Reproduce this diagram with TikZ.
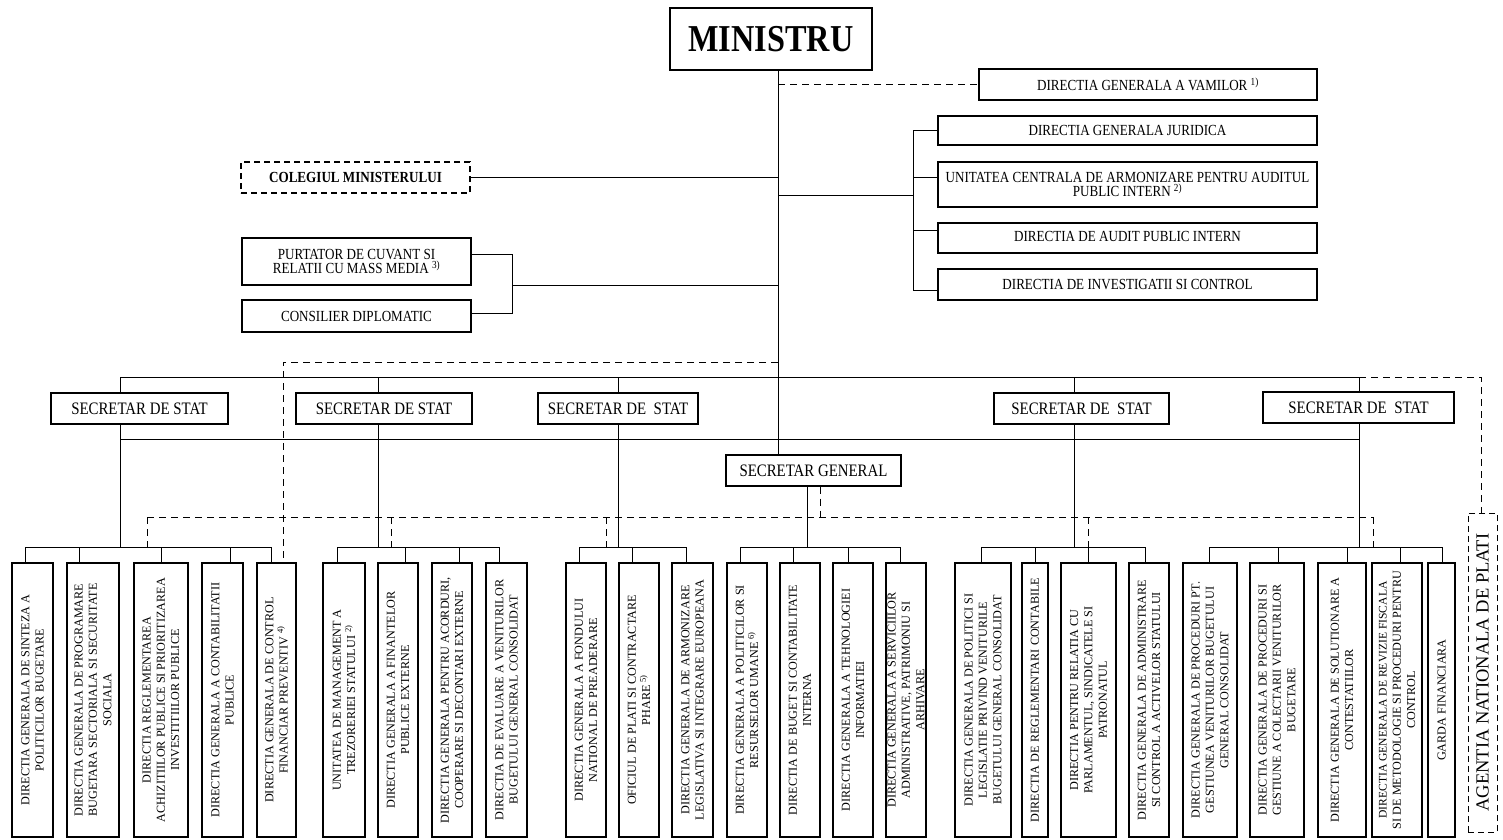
\documentclass[tikz,border=0pt]{standalone}
\usepackage{fontspec}
\setmainfont{Liberation Serif}
\newfontfamily\cond{Liberation Serif}[FakeStretch=0.85]
\usetikzlibrary{backgrounds}
\newcommand\vertbox[4]{%
  \node[vbx, minimum width=#3pt] (#1) at (#2,700) {};
  \node[vtx] (#1t) at (#1.center) {#4};}
\begin{document}
\begin{tikzpicture}[x=1pt,y=-1pt,
  hb/.style={draw,line width=1.1pt,fill=white,inner sep=0pt,align=center,font=\cond\fontsize{15.4}{14.5}\selectfont},
  ss/.style={hb,font=\cond\fontsize{17.5}{18}\selectfont,minimum height=31pt},
  vbx/.style={draw,line width=1.1pt,fill=white,inner sep=0pt,minimum height=274pt},
  vtx/.style={rotate=90,align=center,inner sep=0pt,font=\fontsize{12.2}{14.3}\selectfont},
  ln/.style={line width=0.9pt},
  dl/.style={line width=0.9pt,dash pattern=on 7pt off 5pt},
]
\useasboundingbox (0,0) rectangle (1503,839);

% top level
\node[hb,line width=1.2pt,minimum width=202pt,minimum height=62pt,font=\cond\bfseries\fontsize{38}{40}\selectfont] (MIN) at (771,39) {MINISTRU};
\node[hb,minimum width=338pt,minimum height=31pt] (VAM) at (1148,84.5) {DIRECTIA GENERALA A VAMILOR \textsuperscript{1)}};
\node[hb,minimum width=379pt,minimum height=29pt] (JUR) at (1127.5,130.5) {DIRECTIA GENERALA JURIDICA};
\node[hb,minimum width=379pt,minimum height=45pt] (UCA) at (1127.5,184.5) {UNITATEA CENTRALA DE ARMONIZARE PENTRU AUDITUL\\PUBLIC INTERN \textsuperscript{2)}};
\node[hb,minimum width=379pt,minimum height=30pt] (AUD) at (1127.5,238) {\raisebox{3pt}{DIRECTIA DE AUDIT PUBLIC INTERN}};
\node[hb,minimum width=379pt,minimum height=31pt] (INV) at (1127.5,284.5) {DIRECTIA DE INVESTIGATII SI CONTROL};
\node[hb,dash pattern=on 6pt off 4pt,minimum width=229pt,minimum height=31pt,font=\cond\bfseries\fontsize{15.4}{14.5}\selectfont] (COL) at (355.5,177.5) {COLEGIUL MINISTERULUI};
\node[hb,minimum width=229pt,minimum height=47pt] (PUR) at (356.5,261.5) {PURTATOR DE CUVANT SI\\RELATII CU MASS MEDIA \textsuperscript{3)}};
\node[hb,minimum width=229pt,minimum height=32pt] (CON) at (356.5,316) {CONSILIER DIPLOMATIC};

% secretaries
\node[ss,minimum width=177pt] (SS1) at (139.5,408.5) {SECRETAR DE STAT};
\node[ss,minimum width=176pt] (SS2) at (384,408.5) {SECRETAR DE STAT};
\node[ss,minimum width=160pt] (SS3) at (618,408.5) {SECRETAR DE\ \ STAT};
\node[ss,minimum width=175pt] (SS4) at (1081.5,408.5) {SECRETAR DE\ \ STAT};
\node[ss,minimum width=191pt] (SS5) at (1358.5,407.5) {SECRETAR DE\ \ STAT};
\node[ss,minimum width=175pt] (SG) at (813.5,470.5) {SECRETAR GENERAL};

% group 1
\vertbox{g1a}{32.5}{41}{DIRECTIA GENERALA DE SINTEZA A\\POLITICILOR BUGETARE}
\vertbox{g1b}{93}{52}{DIRECTIA GENERALA DE PROGRAMARE\\BUGETARA SECTORIALA SI SECURITATE\\SOCIALA}
\vertbox{g1c}{161}{54}{DIRECTIA REGLEMENTAREA\\ACHIZITIILOR PUBLICE SI PRIORITIZAREA\\INVESTITIILOR PUBLICE}
\vertbox{g1d}{222.5}{41}{DIRECTIA GENERALA A CONTABILITATII\\PUBLICE}
\vertbox{g1e}{276.5}{39}{DIRECTIA GENERALA DE CONTROL\\FINANCIAR PREVENTIV \textsuperscript{4)}}
% group 2
\vertbox{g2a}{344}{42}{UNITATEA DE MANAGEMENT A\\TREZORERIEI STATULUI \textsuperscript{2)}}
\vertbox{g2b}{398}{40}{DIRECTIA GENERALA A FINANTELOR\\PUBLICE EXTERNE}
\vertbox{g2c}{452}{40}{DIRECTIA GENERALA PENTRU ACORDURI,\\COOPERARE SI DECONTARI EXTERNE}
\vertbox{g2d}{506.5}{41}{DIRECTIA DE EVALUARE A VENITURILOR\\BUGETULUI GENERAL CONSOLIDAT}
% group 3
\vertbox{g3a}{586}{40}{DIRECTIA GENERALA A FONDULUI\\NATIONAL DE PREADERARE}
\vertbox{g3b}{639}{40}{OFICIUL DE PLATI SI CONTRACTARE\\PHARE \textsuperscript{5)}}
\vertbox{g3c}{692.5}{41}{DIRECTIA GENERALA DE ARMONIZARE\\LEGISLATIVA SI INTEGRARE EUROPEANA}
% group 4
\vertbox{g4a}{747}{40}{DIRECTIA GENERALA A POLITICILOR SI\\RESURSELOR UMANE \textsuperscript{6)}}
\vertbox{g4b}{800}{40}{DIRECTIA DE BUGET SI CONTABILITATE\\INTERNA}
\vertbox{g4c}{853}{40}{DIRECTIA GENERALA A TEHNOLOGIEI\\INFORMATIEI}
\vertbox{g4d}{906}{40}{DIRECTIA GENERALA A SERVICIILOR\\ADMINISTRATIVE, PATRIMONIU SI\\ARHIVARE}
% group 5
\vertbox{g5a}{983}{56}{DIRECTIA GENERALA DE POLITICI SI\\LEGISLATIE PRIVIND VENITURILE\\BUGETULUI GENERAL CONSOLIDAT}
\vertbox{g5b}{1035}{26}{DIRECTIA DE REGLEMENTARI CONTABILE}
\vertbox{g5c}{1088.5}{55}{DIRECTIA PENTRU RELATIA CU\\PARLAMENTUL, SINDICATELE SI\\PATRONATUL}
\vertbox{g5d}{1149}{40}{DIRECTIA GENERALA DE ADMINISTRARE\\SI CONTROL A ACTIVELOR STATULUI}
% group 6
\vertbox{g6a}{1210}{54}{DIRECTIA GENERALA DE PROCEDURI PT.\\GESTIUNEA VENITURILOR BUGETULUI\\GENERAL CONSOLIDAT}
\vertbox{g6b}{1277}{54}{DIRECTIA GENERALA DE PROCEDURI SI\\GESTIUNE A COLECTARII VENITURILOR\\BUGETARE}
\vertbox{g6c}{1342}{48}{DIRECTIA GENERALA DE SOLUTIONARE A\\CONTESTATIILOR}
\vertbox{g6d}{1397}{50}{\fontsize{11.6}{14}\selectfont DIRECTIA GENERALA DE REVIZIE FISCALA\\SI DE METODOLOGIE SI PROCEDURI PENTRU\\CONTROL}
\vertbox{g6e}{1441.5}{27}{GARDA FINANCIARA}

% agentia
\node[draw,line width=1pt,dash pattern=on 6pt off 4pt,fill=white,inner sep=0pt,minimum width=29pt,minimum height=319pt] (AG) at (1482.5,672.5) {};
\node[rotate=90,inner sep=0pt,font=\fontsize{18.5}{20}\selectfont] (AGt) at (AG.center) {AGENTIA NATIONALA DE PLATI};

\begin{scope}[on background layer]
\fill[white] (0,0) rectangle (1503,839);
\coordinate (t) at (778,0);
% trunk
\draw[ln] (MIN.south -| t) -- (t |- SG.north);
\draw[dl] (t |- VAM.west) -- (VAM.west);
\draw[ln] (COL.east) -- (t |- COL.east);
% left bracket
\coordinate (lb) at (512,285);
\coordinate (pe) at ([yshift=7.5pt]PUR.east);
\coordinate (ce) at ([yshift=3pt]CON.east);
\draw[ln] (pe) -- (lb |- pe) -- (lb |- ce) -- (ce);
\draw[ln] (lb) -- (t |- lb);
% right bracket
\coordinate (rb) at (913,195);
\coordinate (ue) at ([yshift=7.5pt]UCA.west);
\coordinate (ae) at ([yshift=8pt]AUD.west);
\coordinate (ie) at ([yshift=-5.5pt]INV.west);
\draw[ln] (t |- rb) -- (rb);
\draw[ln] (JUR.west) -- (rb |- JUR.west) -- (rb |- ie) -- (ie);
\draw[ln] (rb |- ue) -- (ue);
\draw[ln] (rb |- ae) -- (ae);
% drops and buses
\foreach \n/\x in {1a/25,1b/79,1c/161,1d/230,1e/271,2a/337,2b/405,2c/459,2d/499,3a/579,3b/632,3c/686,4a/740,4b/793,4c/848,4d/900,5a/981,5b/1035,5c/1088,5d/1145,6a/1209,6b/1278,6c/1347,6d/1400,6e/1442}
  {\coordinate (d\n) at (\x,547); \draw[ln] (d\n) -- (d\n |- g\n.north);}
\draw[ln] (d1a) -- (d1e);
\draw[ln] (d2a) -- (d2d);
\draw[ln] (d3a) -- (d3c);
\draw[ln] (d4a) -- (d4d);
\draw[ln] (d5a) -- (d5d);
\draw[ln] (d6a) -- (d6e);
% state secretary lines
\foreach \i/\x in {1/120,2/378,3/618,4/1074,5/1359}
  {\coordinate (v\i) at (\x,377); \draw[ln] (v\i) -- (v\i |- d1a);}
\draw[ln] (v1) -- (v5);
\coordinate (w1) at (120,439); \coordinate (w5) at (1359,439);
\draw[ln] (w1) -- (w5);
% secretar general
\coordinate (sgs) at (807,0);
\draw[ln] (SG.south -| sgs) -- (sgs |- d4a);
\coordinate (sgd) at (820,517);
\draw[dl] (SG.south -| sgd) -- (sgd);
% dashed coordination line
\foreach \i/\x in {1/147,2/391,3/606,4/1088,5/1373}
  {\coordinate (m\i) at (\x,517); \draw[dl] (m\i) -- (m\i |- d1a);}
\draw[dl] (m1) -- (m5);
% top dashed line
\coordinate (k) at (283,362);
\draw[dl] (t |- k) -- (k) -- (k |- g1e.north);
% to agentia
\coordinate (ag) at (1481,377);
\draw[dl] (v5) -- (ag) -- (ag |- AG.north);
\end{scope}
\end{tikzpicture}
\end{document}
